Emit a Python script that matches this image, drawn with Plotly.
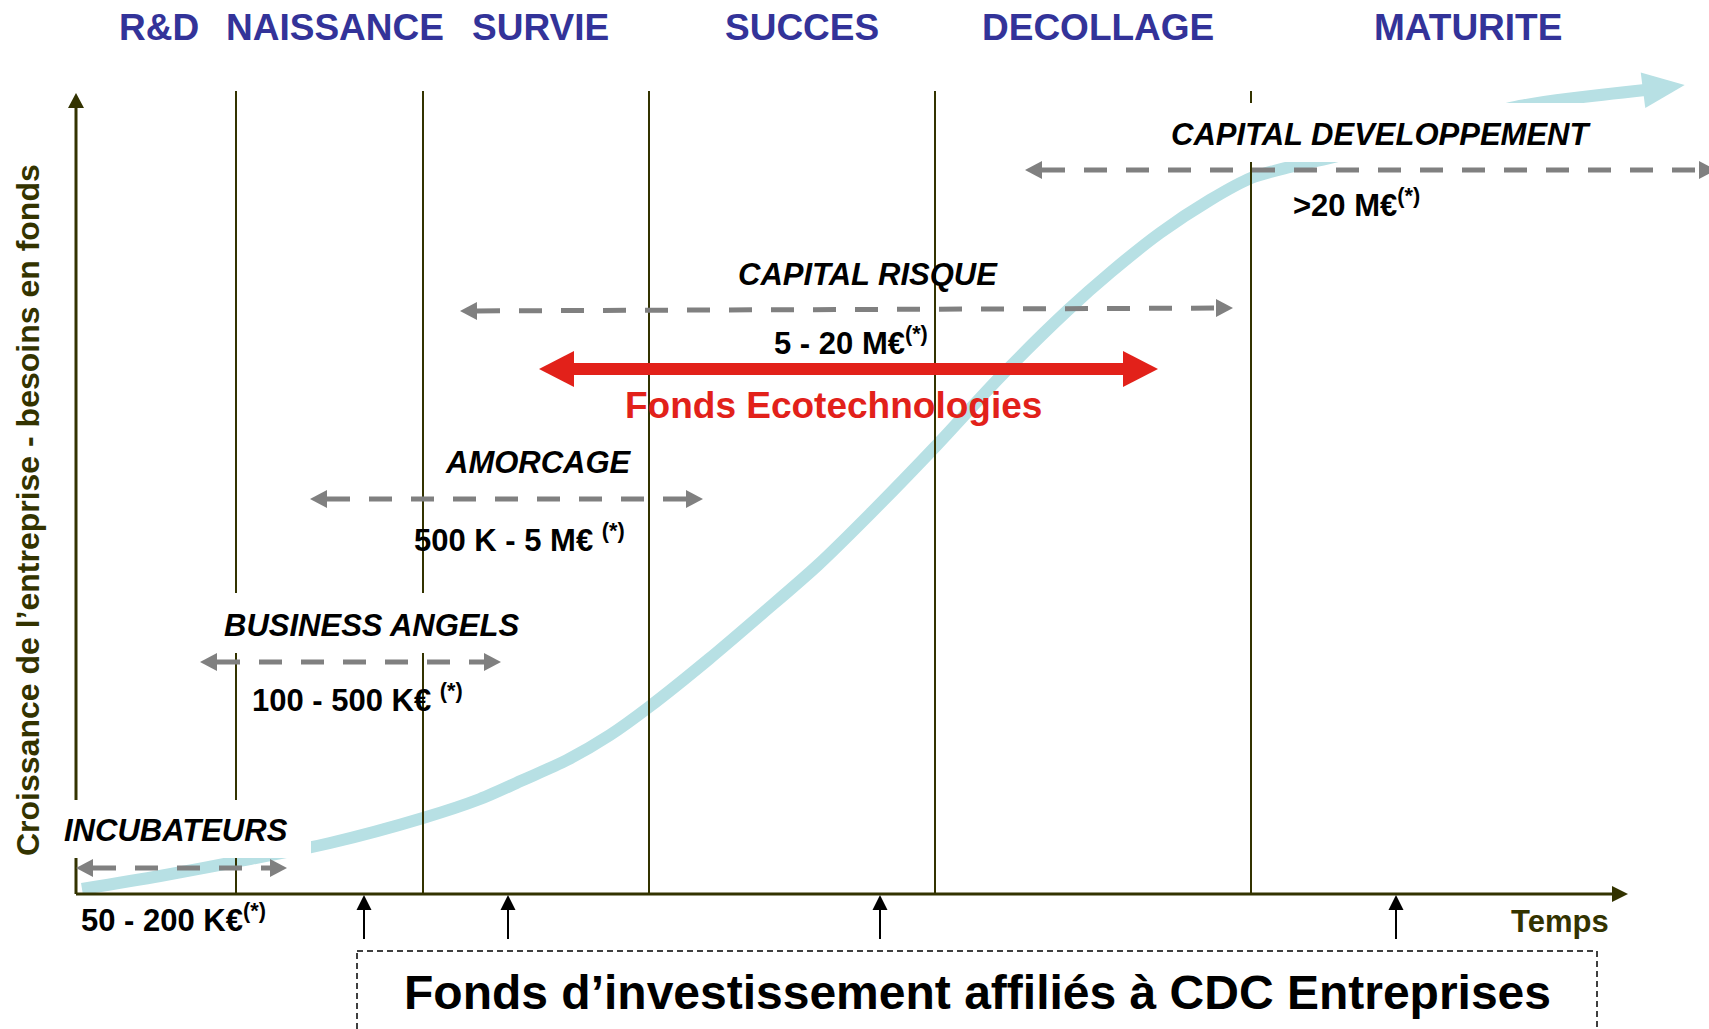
import numpy as np
import plotly.graph_objects as go

W, H = 1709, 1029

# ---------------- data ----------------
phase_names = ["R&D", "NAISSANCE", "SURVIE", "SUCCES", "DECOLLAGE", "MATURITE"]
phase_label_t = [159, 335, 540, 802, 1098, 1468]
phase_bounds_t = [236, 423, 649, 935, 1251]

# company growth curve (time, growth level)
curve_t = [82, 160, 235, 330, 423, 480, 523, 567, 610, 649, 709, 763, 818,
           872, 935, 1000, 1068, 1111, 1160, 1210, 1251, 1290, 1330, 1380,
           1450, 1520, 1645]
curve_g = [889, 876, 862, 843, 818, 799, 780, 760, 735, 707, 659, 613, 565,
           512, 447, 377, 310, 272, 233, 200, 178, 167, 158, 145,
           125, 106, 90]

# financing stages
stage_names = ["INCUBATEURS", "BUSINESS ANGELS", "AMORCAGE", "CAPITAL RISQUE",
               "CAPITAL DEVELOPPEMENT"]
stage_amounts = ["50 - 200 K€<sup>(*)</sup>", "100 - 500 K€ <sup>(*)</sup>",
                 "500 K - 5 M€ <sup>(*)</sup>", "5 - 20 M€<sup>(*)</sup>",
                 "&gt;20 M€<sup>(*)</sup>"]
stage_t0 = [76, 200, 310, 460, 1025]
stage_t1 = [287, 501, 703, 1233, 1716]
stage_g0 = [868, 662, 499, 311, 170]
stage_g1 = [868, 662, 499, 308, 170]
name_t = [176, 371, 538, 868, 1381]
name_g = [830, 625, 462, 274, 134]
amount_t = [173, 357, 519, 851, 1356]
amount_g = [918, 698, 538, 341, 203]

eco_name = "Fonds Ecotechnologies"
eco_t = [539, 1158]
eco_g = 369
eco_label = (833, 405)

cdc_name = "Fonds d’investissement affiliés à CDC Entreprises"
cdc_t = [364, 508, 880, 1396]

axis_origin = (76, 894)
axis_x_end = 1628
axis_y_end = 93
y_title = "Croissance de l’entreprise - besoins en fonds"
x_title = "Temps"

# ---------------- styles ----------------
FONT = "Liberation Sans, Arial, sans-serif"
OLIVE = "#333300"
BLUE = "#333399"
GRAY = "#808080"
RED = "#E2211A"
CYAN = "#B7E0E4"

fig = go.Figure()


def head(tip_x, tip_y, dx, dy, L, hw, color):
    d = np.array([dx, dy], float)
    d /= np.linalg.norm(d)
    p = np.array([-d[1], d[0]])
    tip = np.array([tip_x, tip_y], float)
    base = tip - d * L
    a = base + p * hw
    b = base - p * hw
    fig.add_trace(go.Scatter(x=[tip[0], a[0], b[0], tip[0]],
                             y=[tip[1], a[1], b[1], tip[1]],
                             mode="lines", fill="toself", fillcolor=color,
                             line=dict(width=0, color=color), hoverinfo="skip"))
    return base


# growth curve
fig.add_trace(go.Scatter(x=curve_t, y=curve_g, mode="lines",
                         line=dict(color=CYAN, width=12, shape="spline", smoothing=0.8),
                         hoverinfo="skip"))
_dx = curve_t[-1] - curve_t[-2]
_dy = curve_g[-1] - curve_g[-2]
_n = np.hypot(_dx, _dy)
head(curve_t[-1] + 40 * _dx / _n, curve_g[-1] + 40 * _dy / _n, _dx, _dy, 42, 18, CYAN)

# phase boundaries
for t in phase_bounds_t:
    fig.add_trace(go.Scatter(x=[t, t], y=[91, axis_origin[1]], mode="lines",
                             line=dict(color=OLIVE, width=2), hoverinfo="skip"))

# axes
ox, oy = axis_origin
bx = head(axis_x_end, oy, 1, 0, 16, 8, OLIVE)
fig.add_trace(go.Scatter(x=[ox, bx[0]], y=[oy, oy], mode="lines",
                         line=dict(color=OLIVE, width=3), hoverinfo="skip"))
by = head(ox, axis_y_end, 0, -1, 15, 8, OLIVE)
fig.add_trace(go.Scatter(x=[ox, ox], y=[oy, by[1]], mode="lines",
                         line=dict(color=OLIVE, width=3), hoverinfo="skip"))

# financing stage dashed arrows
for t0, t1, g0, g1 in zip(stage_t0, stage_t1, stage_g0, stage_g1):
    b1 = head(t1, g1, t1 - t0, g1 - g0, 17, 9, GRAY)
    b0 = head(t0, g0, t0 - t1, g0 - g1, 17, 9, GRAY)
    fig.add_trace(go.Scatter(x=[b0[0], b1[0]], y=[b0[1], b1[1]], mode="lines",
                             line=dict(color=GRAY, width=5, dash="23px,19px"),
                             hoverinfo="skip"))

# Fonds Ecotechnologies red arrow
r0 = head(eco_t[0], eco_g, -1, 0, 35, 18, RED)
r1 = head(eco_t[1], eco_g, 1, 0, 35, 18, RED)
fig.add_trace(go.Scatter(x=[r0[0], r1[0]], y=[eco_g, eco_g], mode="lines",
                         line=dict(color=RED, width=12), hoverinfo="skip"))

# CDC funds arrows
for t in cdc_t:
    b = head(t, oy + 1, 0, -1, 15, 7.5, "black")
    fig.add_trace(go.Scatter(x=[t, t], y=[939, b[1]], mode="lines",
                             line=dict(color="black", width=2), hoverinfo="skip"))

shapes = [
    # white label backgrounds (drawn above the lines)
    dict(type="rect", x0=45, x1=311, y0=800, y1=858, layer="above",
         fillcolor="white", line=dict(width=0)),
    dict(type="rect", x0=205, x1=540, y0=593, y1=653, layer="above",
         fillcolor="white", line=dict(width=0)),
    dict(type="rect", x0=1155, x1=1610, y0=103, y1=162, layer="above",
         fillcolor="white", line=dict(width=0)),
    # dashed box for CDC funds
    dict(type="rect", x0=357, x1=1597, y0=951, y1=1060, layer="above",
         fillcolor="rgba(0,0,0,0)", line=dict(color="black", width=1.5, dash="6px,4px")),
]

ann = []
for name, t in zip(phase_names, phase_label_t):
    ann.append(dict(x=t, y=27, text=name, showarrow=False,
                    font=dict(family=FONT, size=37, color=BLUE, weight=700)))
for name, t, g in zip(stage_names, name_t, name_g):
    ann.append(dict(x=t, y=g, text=name, showarrow=False,
                    font=dict(family=FONT, size=31, color="black", weight=700, style="italic")))
for amt, t, g in zip(stage_amounts, amount_t, amount_g):
    ann.append(dict(x=t, y=g, text=amt, showarrow=False,
                    font=dict(family=FONT, size=31, color="black", weight=700)))
ann.append(dict(x=eco_label[0], y=eco_label[1], text=eco_name, showarrow=False,
                font=dict(family=FONT, size=37, color=RED, weight=700)))
ann.append(dict(x=977, y=992, text=cdc_name, showarrow=False,
                font=dict(family=FONT, size=48, color="black", weight=700)))
ann.append(dict(x=1560, y=921, text=x_title, showarrow=False,
                font=dict(family=FONT, size=31, color=OLIVE, weight=700)))
ann.append(dict(x=28, y=510, text=y_title, showarrow=False, textangle=-90,
                font=dict(family=FONT, size=32, color=OLIVE, weight=700)))
for a in ann:
    a.update(xref="x", yref="y", xanchor="center", yanchor="middle")

fig.update_layout(
    width=W, height=H, margin=dict(l=0, r=0, t=0, b=0),
    paper_bgcolor="white", plot_bgcolor="white", showlegend=False,
    xaxis=dict(range=[0, W], visible=False, fixedrange=True),
    yaxis=dict(range=[H, 0], visible=False, fixedrange=True),
    shapes=shapes, annotations=ann,
)

fig.write_html("out.html", config={"displayModeBar": False},
               post_script="document.body.style.margin='0';document.body.style.overflow='hidden';")
